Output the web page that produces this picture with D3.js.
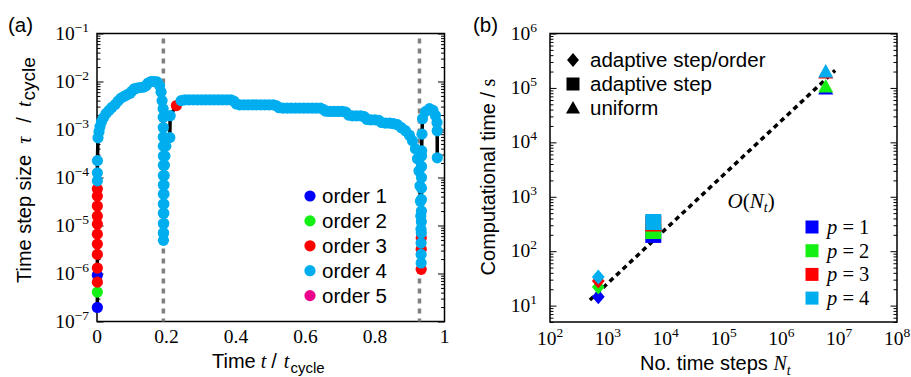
<!DOCTYPE html>
<html>
<head>
<meta charset="utf-8">
<script src="https://cdn.jsdelivr.net/npm/d3@7/dist/d3.min.js"></script>
<style>
  body { margin: 0; background: #fff; }
  text { font-family: "Liberation Sans", Arial, sans-serif; fill: #000; }
  .serif { font-family: "Liberation Serif", "DejaVu Serif", serif; }
</style>
</head>
<body>
<div id="chart"></div>
<script>
// ---- panel (a): time step size over one cycle, [t, tau, order] ----
const orderNames = ['order 1', 'order 2', 'order 3', 'order 4', 'order 5'];
const orderColors = ['#0000ff', '#14f014', '#ff0000', '#00aeef', '#ec008c'];
const markerTimes = [0.191, 0.928];
const tTicks = [0, 0.2, 0.4, 0.6, 0.8, 1];
const tLabels = ['0', '0.2', '0.4', '0.6', '0.8', '1'];
const tauExps = [-7, -6, -5, -4, -3, -2, -1];

// start of the cycle (t ~ 0)
const stepsStart = [
  [0.001, 1.96e-7, 1], [0.001, 4.1e-7, 2], [0.001, 6.6e-7, 3], [0.001, 9.2e-7, 1],
  [0.001, 1.3e-6, 3], [0.001, 2.5e-6, 3], [0.001, 4.1e-6, 3], [0.001, 6.6e-6, 3],
  [0.001, 1.07e-5, 3], [0.001, 1.57e-5, 3], [0.001, 2.55e-5, 3], [0.001, 4.1e-5, 3],
  [0.001, 5.8e-5, 3], [0.001, 8.5e-5, 4], [0.001, 1.25e-4, 4], [0.0012, 2.25e-4, 4]
];
// rise to the first maximum
const stepsRise = [
  [0.0029, 6.7e-4, 4], [0.0058, 9.0e-4, 4], [0.0086, 1.15e-3, 4], [0.013, 1.46e-3, 4],
  [0.0187, 1.77e-3, 4], [0.0259, 2.14e-3, 4], [0.0346, 2.5e-3, 4], [0.0432, 2.9e-3, 4],
  [0.0519, 3.3e-3, 4], [0.0605, 3.9e-3, 4], [0.0692, 4.5e-3, 4], [0.0778, 4.9e-3, 4],
  [0.0865, 5.3e-3, 4], [0.0951, 5.7e-3, 4], [0.1009, 6.3e-3, 4], [0.1066, 7.0e-3, 4],
  [0.1153, 7.3e-3, 4], [0.1239, 7.5e-3, 4], [0.1326, 7.6e-3, 4], [0.1412, 8.1e-3, 4],
  [0.147, 9.3e-3, 4], [0.1556, 1.0e-2, 4], [0.1643, 1.0e-2, 4], [0.1729, 9.8e-3, 4],
  [0.1801, 8.2e-3, 4], [0.1844, 6.0e-3, 4], [0.1873, 4.0e-3, 4], [0.1902, 2.72e-3, 4]
];
// drop at t ~ 0.19 and recovery
const stepsDrop1 = [
  [0.1905, 1.8e-3, 4], [0.1906, 1.1e-3, 4], [0.1907, 7e-4, 4], [0.1908, 4.5e-4, 4],
  [0.1909, 2.8e-4, 4], [0.191, 1.8e-4, 4], [0.191, 1.1e-4, 4], [0.191, 7e-5, 4],
  [0.191, 4.5e-5, 4], [0.191, 2.8e-5, 4], [0.191, 1.8e-5, 4], [0.191, 1.1e-5, 4],
  [0.191, 7e-6, 4], [0.1912, 4.9e-6, 4], [0.1916, 7e-6, 4], [0.192, 1.1e-5, 4],
  [0.1922, 1.8e-5, 4], [0.1925, 2.8e-5, 4], [0.1928, 4.5e-5, 4], [0.193, 7e-5, 4],
  [0.1935, 1.1e-4, 4], [0.194, 1.8e-4, 4], [0.1955, 2.8e-4, 4], [0.198, 4.5e-4, 4],
  [0.2095, 6.8e-4, 4], [0.2105, 1.94e-3, 4], [0.2285, 3.15e-3, 3]
];
// long plateau
const stepsPlateau = [
  [0.242, 4.0e-3, 4], [0.253, 4.16e-3, 4], [0.265, 4.16e-3, 4], [0.277, 4.16e-3, 4],
  [0.289, 4.16e-3, 4], [0.301, 4.16e-3, 4], [0.313, 4.16e-3, 4], [0.325, 4.16e-3, 4],
  [0.337, 4.16e-3, 4], [0.349, 4.16e-3, 4], [0.361, 4.16e-3, 4], [0.373, 4.16e-3, 4],
  [0.385, 4.16e-3, 4], [0.394, 3.9e-3, 4], [0.401, 3.4e-3, 4], [0.411, 3.27e-3, 4],
  [0.423, 3.27e-3, 4], [0.435, 3.27e-3, 4], [0.447, 3.27e-3, 4], [0.459, 3.27e-3, 4],
  [0.471, 3.27e-3, 4], [0.483, 3.27e-3, 4], [0.495, 3.27e-3, 4], [0.507, 3.27e-3, 4],
  [0.517, 3.1e-3, 4], [0.524, 2.85e-3, 4], [0.535, 2.79e-3, 4], [0.547, 2.79e-3, 4],
  [0.559, 2.79e-3, 4], [0.571, 2.79e-3, 4], [0.583, 2.79e-3, 4], [0.595, 2.79e-3, 4],
  [0.607, 2.79e-3, 4], [0.619, 2.79e-3, 4], [0.631, 2.79e-3, 4], [0.643, 2.79e-3, 4],
  [0.652, 2.6e-3, 4], [0.659, 2.4e-3, 4], [0.670, 2.38e-3, 4], [0.682, 2.38e-3, 4],
  [0.694, 2.38e-3, 4], [0.706, 2.38e-3, 4], [0.716, 2.3e-3, 4], [0.724, 2.0e-3, 4],
  [0.735, 1.93e-3, 4], [0.747, 1.93e-3, 4], [0.759, 1.93e-3, 4], [0.769, 1.85e-3, 4],
  [0.777, 1.62e-3, 4], [0.788, 1.59e-3, 4], [0.800, 1.59e-3, 4], [0.811, 1.55e-3, 4],
  [0.819, 1.4e-3, 4], [0.830, 1.36e-3, 4], [0.842, 1.36e-3, 4], [0.853, 1.32e-3, 4]
];
// drop at t ~ 0.93
const stepsDrop2 = [
  [0.8646, 1.26e-3, 4], [0.876, 1.09e-3, 4], [0.8876, 9.45e-4, 4], [0.899, 7.6e-4, 4],
  [0.9078, 5.83e-4, 4], [0.9164, 3.96e-4, 4], [0.9222, 2.45e-4, 4], [0.9265, 1.37e-4, 4],
  [0.9294, 6.7e-5, 4], [0.9308, 3.2e-5, 4], [0.9317, 1.57e-5, 4], [0.9323, 8.4e-6, 4],
  [0.9326, 4.3e-6, 4], [0.9327, 2.5e-6, 4], [0.9328, 1.66e-6, 4], [0.9329, 1.22e-6, 3],
  [0.933, 3.2e-6, 3], [0.9331, 5.5e-6, 3], [0.9333, 7e-6, 4], [0.9334, 1.2e-5, 4],
  [0.9335, 2e-5, 4], [0.9336, 3.5e-5, 4], [0.9337, 6e-5, 4], [0.9338, 1e-4, 4],
  [0.9339, 1.7e-4, 4], [0.934, 2.8e-4, 4], [0.9342, 3.6e-4, 4]
];
// end of the cycle
const stepsEnd = [
  [0.9352, 8e-4, 4], [0.9366, 1.68e-3, 4], [0.9452, 2.36e-3, 4], [0.9568, 2.72e-3, 4],
  [0.9669, 2.5e-3, 4], [0.974, 1.95e-3, 4], [0.9784, 1.4e-3, 4], [0.979, 9.4e-4, 4],
  [0.9792, 2.57e-4, 4]
];

// ---- panel (b): computational time vs number of time steps ----
const methods = ['adaptive step/order', 'adaptive step', 'uniform'];
const methodSteps = [684, 6110, 5.85e6];
const pLabels = ['1', '2', '3', '4'];
const cpuStepOrder = [14.6, 22, 28.3, 33.5];
const cpuStep = [199, 235, 323, 344];
const cpuUniform = [9.75e4, 1.06e5, 1.92e5, 2.0e5];
const refSteps = [490, 8.5e6];
const refTime = [12.7, 2.1e5];
const nExps = [2, 3, 4, 5, 6, 7, 8];
const cpuExps = [1, 2, 3, 4, 5, 6];

const W = 911, H = 377;
const svg = d3.select('#chart').append('svg')
  .attr('width', W).attr('height', H);

const pa = {left: 97, right: 444.5, top: 33.5, bottom: 321.5};
const pb = {left: 550, right: 897, top: 33.5, bottom: 322};

const xA = d3.scaleLinear().domain([0, 1]).range([pa.left, pa.right]);
const yA = d3.scaleLog().domain([1e-7, 1e-1]).range([pa.bottom, pa.top]);
const xB = d3.scaleLog().domain([1e2, 1e8]).range([pb.left, pb.right]);
const yB = d3.scaleLog().domain([5, 1e6]).range([pb.bottom, pb.top]);

// minor + major log ticks inside the domain
function logTicks(scale) {
  const [lo, hi] = scale.domain(), out = [];
  for (let e = Math.floor(Math.log10(lo)); e < Math.ceil(Math.log10(hi)); e++) {
    for (let k = 1; k < 10; k++) {
      const v = k * Math.pow(10, e);
      if (v >= lo * 0.999 && v <= hi * 1.001) out.push(v);
    }
  }
  out.push(hi);
  return out;
}

function drawYTicks(scale, p) {
  const all = logTicks(scale);
  const major = all.filter(v => Math.abs(Math.log10(v) - Math.round(Math.log10(v))) < 1e-6);
  const minor = all.filter(v => major.indexOf(v) < 0);
  [[major, 6.5], [minor, 3.5]].forEach(([vals, len]) => {
    const gl = svg.append('g').attr('transform', 'translate(' + p.left + ',0)')
      .call(d3.axisLeft(scale).tickValues(vals).tickSize(-len).tickFormat(''));
    const gr = svg.append('g').attr('transform', 'translate(' + p.right + ',0)')
      .call(d3.axisRight(scale).tickValues(vals).tickSize(-len).tickFormat(''));
    [gl, gr].forEach(g => {
      g.select('.domain').remove();
      g.selectAll('.tick line').attr('stroke', '#000').attr('stroke-width', 1);
    });
  });
}

function powLabel(x, y, exp, anchor) {
  const t = svg.append('text').attr('class', 'serif')
    .attr('x', x).attr('y', y).attr('text-anchor', anchor)
    .style('font-size', '19.5px');
  t.append('tspan').text('10');
  t.append('tspan').attr('dy', -8).style('font-size', '13.5px')
    .text(String(exp).replace('-', '\u2212'));
}

function frame(p) {
  svg.append('rect')
    .attr('x', p.left).attr('y', p.top)
    .attr('width', p.right - p.left).attr('height', p.bottom - p.top)
    .attr('fill', 'none').attr('stroke', '#000').attr('stroke-width', 1.5);
}

// ================= panel (a) =================
frame(pa);
drawYTicks(yA, pa);
tauExps.forEach(e => powLabel(89, yA(Math.pow(10, e)) + 6, e, 'end'));
tTicks.forEach((v, i) => {
  svg.append('text').attr('class', 'serif')
    .attr('x', xA(v)).attr('y', 343).attr('text-anchor', 'middle')
    .style('font-size', '19.5px').text(tLabels[i]);
});

svg.selectAll('.marker-line').data(markerTimes).enter().append('line')
  .attr('x1', d => xA(d)).attr('x2', d => xA(d))
  .attr('y1', pa.top + 5).attr('y2', pa.bottom)
  .attr('stroke', '#808080').attr('stroke-width', 3.5)
  .attr('stroke-dasharray', '5,5');

const steps = [].concat(stepsStart, stepsRise, stepsDrop1, stepsPlateau, stepsDrop2, stepsEnd);

svg.append('path').datum(steps)
  .attr('fill', 'none').attr('stroke', '#000').attr('stroke-width', 3.5)
  .attr('d', d3.line().x(d => xA(d[0])).y(d => yA(d[1])));

[1, 2, 3, 4, 5].forEach(o => {
  svg.selectAll('.pt' + o).data(steps.filter(d => d[2] === o)).enter().append('circle')
    .attr('class', 'pt' + o)
    .attr('cx', d => xA(d[0])).attr('cy', d => yA(d[1])).attr('r', 5.6)
    .attr('fill', orderColors[o - 1]);
});

const legA = svg.append('g');
orderNames.forEach((name, i) => {
  const yy = 196 + i * 24.9;
  legA.append('circle').attr('cx', 310).attr('cy', yy).attr('r', 5.6).attr('fill', orderColors[i]);
  legA.append('text').attr('x', 322).attr('y', yy + 7).style('font-size', '20.5px').text(name);
});

// axis titles (a)
const xtA = svg.append('text').attr('x', 212).attr('y', 368)
  .style('font-size', '20px');
xtA.append('tspan').text('Time');
xtA.append('tspan').attr('dx', 5).attr('class', 'serif').style('font-style', 'italic').text('t');
xtA.append('tspan').attr('dx', 5).text('/');
xtA.append('tspan').attr('dx', 7).attr('class', 'serif').style('font-style', 'italic').text('t');
xtA.append('tspan').attr('dx', 1).attr('dy', 5).style('font-size', '15px').text('cycle');

const ytA = svg.append('text')
  .attr('transform', 'translate(31,283) rotate(-90)')
  .style('font-size', '20px');
ytA.append('tspan').text('Time step size');
ytA.append('tspan').attr('dx', 11).attr('class', 'serif').style('font-style', 'italic').text('\u03c4');
ytA.append('tspan').attr('dx', 14).text('/');
ytA.append('tspan').attr('dx', 10).attr('class', 'serif').style('font-style', 'italic').text('t');
ytA.append('tspan').attr('dx', 1).attr('dy', 4).style('font-size', '19px').text('cycle');

svg.append('text').attr('x', 8).attr('y', 32).style('font-size', '20.5px').text('(a)');

// ================= panel (b) =================
frame(pb);
drawYTicks(yB, pb);
cpuExps.forEach(e => powLabel(537, yB(Math.pow(10, e)) + 6, e, 'end'));
nExps.forEach(e => powLabel(xB(Math.pow(10, e)), 345, e, 'middle'));

svg.append('path').datum(refSteps.map((n, i) => [n, refTime[i]]))
  .attr('fill', 'none').attr('stroke', '#000').attr('stroke-width', 3.5)
  .attr('stroke-dasharray', '5,4')
  .attr('d', d3.line().x(d => xB(d[0])).y(d => yB(d[1])));

const ot = svg.append('text').attr('class', 'serif')
  .attr('x', xB(3e5)).attr('y', yB(620)).attr('text-anchor', 'middle')
  .style('font-size', '21px');
ot.append('tspan').style('font-style', 'italic').text('O');
ot.append('tspan').text('(');
ot.append('tspan').style('font-style', 'italic').text('N');
ot.append('tspan').attr('dy', 4).style('font-size', '14px').style('font-style', 'italic').text('t');
ot.append('tspan').attr('dy', -4).text(')');

const shapes = {
  diamond: s => 'M0,' + (-s) + 'L' + (s * 0.85) + ',0L0,' + s + 'L' + (-s * 0.85) + ',0Z',
  square: s => 'M' + (-s) + ',' + (-s) + 'H' + s + 'V' + s + 'H' + (-s) + 'Z',
  triangle: s => 'M0,' + (-s) + 'L' + s + ',' + (s * 0.8) + 'L' + (-s) + ',' + (s * 0.8) + 'Z'
};
const seriesB = [
  {shape: 'diamond', size: 7.5, vals: cpuStepOrder},
  {shape: 'square', size: 8, vals: cpuStep},
  {shape: 'triangle', size: 7.5, vals: cpuUniform}
];
seriesB.forEach((s, m) => {
  s.vals.forEach((v, p) => {
    svg.append('path')
      .attr('transform', 'translate(' + xB(methodSteps[m]) + ',' + yB(v) + ')')
      .attr('d', shapes[s.shape](s.size))
      .attr('fill', orderColors[p]);
  });
});

// legend: methods
const legShapes = [['diamond', 7], ['square', 6.5], ['triangle', 7]];
methods.forEach((name, i) => {
  const yy = 60 + i * 24;
  svg.append('path').attr('transform', 'translate(573,' + yy + ')')
    .attr('d', shapes[legShapes[i][0]](legShapes[i][1])).attr('fill', '#000');
  svg.append('text').attr('x', 590).attr('y', yy + 7).style('font-size', '20.5px').text(name);
});

// legend: orders p
pLabels.forEach((lab, i) => {
  const yy = 227 + i * 23.7;
  svg.append('rect').attr('x', 805.5).attr('y', yy - 6.5).attr('width', 13).attr('height', 13)
    .attr('fill', orderColors[i]);
  const t = svg.append('text').attr('class', 'serif').attr('x', 827).attr('y', yy + 7)
    .style('font-size', '20.5px');
  t.append('tspan').style('font-style', 'italic').text('p');
  t.append('tspan').text(' = ' + lab);
});

// axis titles (b)
const xtB = svg.append('text').attr('x', 640).attr('y', 370)
  .style('font-size', '20px');
xtB.append('tspan').text('No. time steps ');
xtB.append('tspan').attr('class', 'serif').style('font-style', 'italic').text('N');
xtB.append('tspan').attr('class', 'serif').attr('dy', 5).style('font-size', '14px')
  .style('font-style', 'italic').text('t');

const ytB = svg.append('text')
  .attr('transform', 'translate(495,177) rotate(-90)')
  .attr('text-anchor', 'middle').style('font-size', '20px');
ytB.append('tspan').text('Computational time / ');
ytB.append('tspan').attr('class', 'serif').text('s');

svg.append('text').attr('x', 473).attr('y', 32).style('font-size', '20.5px').text('(b)');
</script>
</body>
</html>
